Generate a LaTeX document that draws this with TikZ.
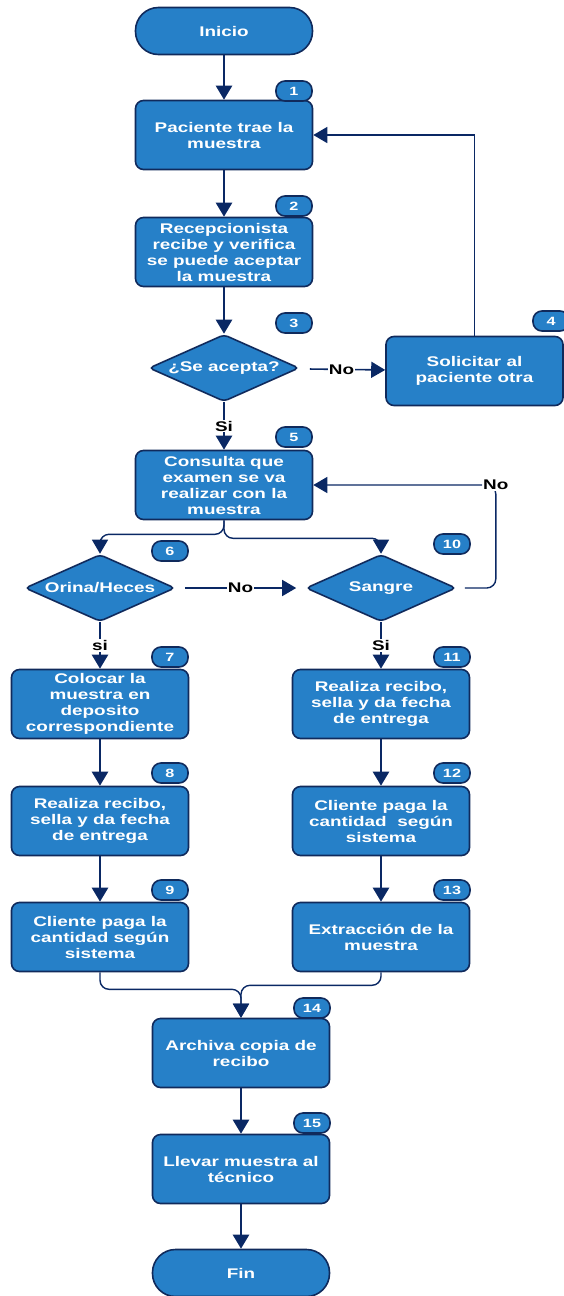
\documentclass[tikz,border=0pt]{standalone}
\usepackage{fontspec}
\setmainfont{Liberation Sans}[FakeStretch=1.35]
\usetikzlibrary{shapes.geometric,arrows.meta}
\definecolor{azul}{RGB}{38,128,200}
\definecolor{borde}{RGB}{16,42,92}
\definecolor{flecha}{RGB}{10,40,100}
\begin{document}
\begin{tikzpicture}[x=1pt,y=-1pt,>={Triangle[width=16pt,length=14pt]},
		every node/.style={font=\bfseries\fontsize{14}{16}\selectfont},
		paso/.style={draw=borde,line width=1.6pt,fill=azul,text=white,rounded corners=8pt,
			minimum width=177pt,minimum height=69pt,align=center,inner sep=2pt},
		term/.style={paso,rounded corners=23pt,minimum height=47pt},
		dec/.style={diamond,draw=borde,line width=1.6pt,fill=azul,text=white,aspect=2.2,
			minimum width=150pt,minimum height=67pt,inner sep=0pt,rounded corners=4pt},
		num/.style={draw=borde,line width=1.6pt,fill=azul,text=white,rounded corners=9pt,
			minimum width=36pt,minimum height=20pt,inner sep=0pt,font=\bfseries\fontsize{12}{12}\selectfont},
		lbl/.style={fill=white,text=black,inner sep=1pt},
		flujo/.style={->,draw=flecha,line width=2.4pt},
		union/.style={->,draw=flecha,line width=1.4pt,rounded corners=9pt}]
		\useasboundingbox (0,0) rectangle (564,1296);
		\node[term] (inicio) at (224,31) {Inicio};
		\node[paso] (p1) at (224,135) {Paciente trae la\\muestra};
		\node[paso] (p2) at (224,252) {Recepcionista\\recibe y verifica\\se puede aceptar\\la muestra};
		\node[dec] (d3) at (224,368) {¿Se acepta?};
		\node[paso] (p4) at (474.5,371) {Solicitar al\\paciente otra};
		\node[paso] (p5) at (224,485) {Consulta que\\examen se va\\realizar con la\\muestra};
		\node[dec] (d6) at (100,588) {Orina/Heces};
		\node[dec] (d10) at (381,588) {Sangre};
		\node[paso] (p7) at (100,704) {Colocar la\\muestra en\\deposito\\correspondiente};
		\node[paso] (p8) at (100,821) {Realiza recibo,\\sella y da fecha\\de entrega};
		\node[paso] (p9) at (100,937) {Cliente paga la\\cantidad según\\sistema};
		\node[paso] (p11) at (381,704) {Realiza recibo,\\sella y da fecha\\de entrega};
		\node[paso] (p12) at (381,821) {Cliente paga la\\cantidad\ \ según\\sistema};
		\node[paso] (p13) at (381,937) {Extracción de la\\muestra};
		\node[paso] (p14) at (241,1053) {Archiva copia de\\recibo};
		\node[paso] (p15) at (241,1169) {Llevar muestra al\\técnico};
		\node[term] (fin) at (241,1273) {Fin};
		\node[num] (n1) at (294,91) {1};
		\node[num] (n2) at (294,206) {2};
		\node[num] (n3) at (294,323) {3};
		\node[num] (n4) at (551,321) {4};
		\node[num] (n5) at (294,437) {5};
		\node[num] (n6) at (170,551) {6};
		\node[num] (n10) at (452,544) {10};
		\node[num] (n7) at (170,657) {7};
		\node[num] (n8) at (170,773) {8};
		\node[num] (n9) at (170,890) {9};
		\node[num] (n11) at (452,657) {11};
		\node[num] (n12) at (452,773) {12};
		\node[num] (n13) at (452,890) {13};
		\node[num] (n14) at (312,1008) {14};
		\node[num] (n15) at (312,1123) {15};
		\draw[flujo] (inicio) -- (p1);
		\draw[flujo] (p1) -- (p2);
		\draw[flujo] (p2) -- (d3);
		\draw[flujo,line width=1.6pt,shorten <=12pt] (d3) -- node[lbl]{No} (p4);
		\draw[flujo,line width=1.6pt] (p4.north) |- (p1.east);
		\draw[flujo] (d3) -- node[lbl]{Si} (p5);
		\draw[union] (p5.south) -- ++(0,14) -| (d6.north);
		\draw[union] (p5.south) -- ++(0,18) -| (d10.north);
		\draw[flujo,line width=1.6pt,shorten <=9pt,shorten >=9pt] (d6) -- node[lbl]{No} (d10);
		\draw[union,shorten <=8pt] (d10.east) -- ++(39,0) |- node[lbl,pos=0.5]{No} (p5.east);
		\draw[flujo] (d6) -- node[lbl]{si} (p7);
		\draw[flujo] (d10) -- node[lbl]{Si} (p11);
		\draw[flujo] (p7) -- (p8);
		\draw[flujo] (p8) -- (p9);
		\draw[flujo] (p11) -- (p12);
		\draw[flujo] (p12) -- (p13);
		\draw[union] (p9.south) -- ++(0,17) -| (p14.north);
		\draw[union] (p13.south) -- ++(0,13) -| (p14.north);
		\draw[flujo] (p14) -- (p15);
		\draw[flujo] (p15) -- (fin);
	\end{tikzpicture}
\end{document}
